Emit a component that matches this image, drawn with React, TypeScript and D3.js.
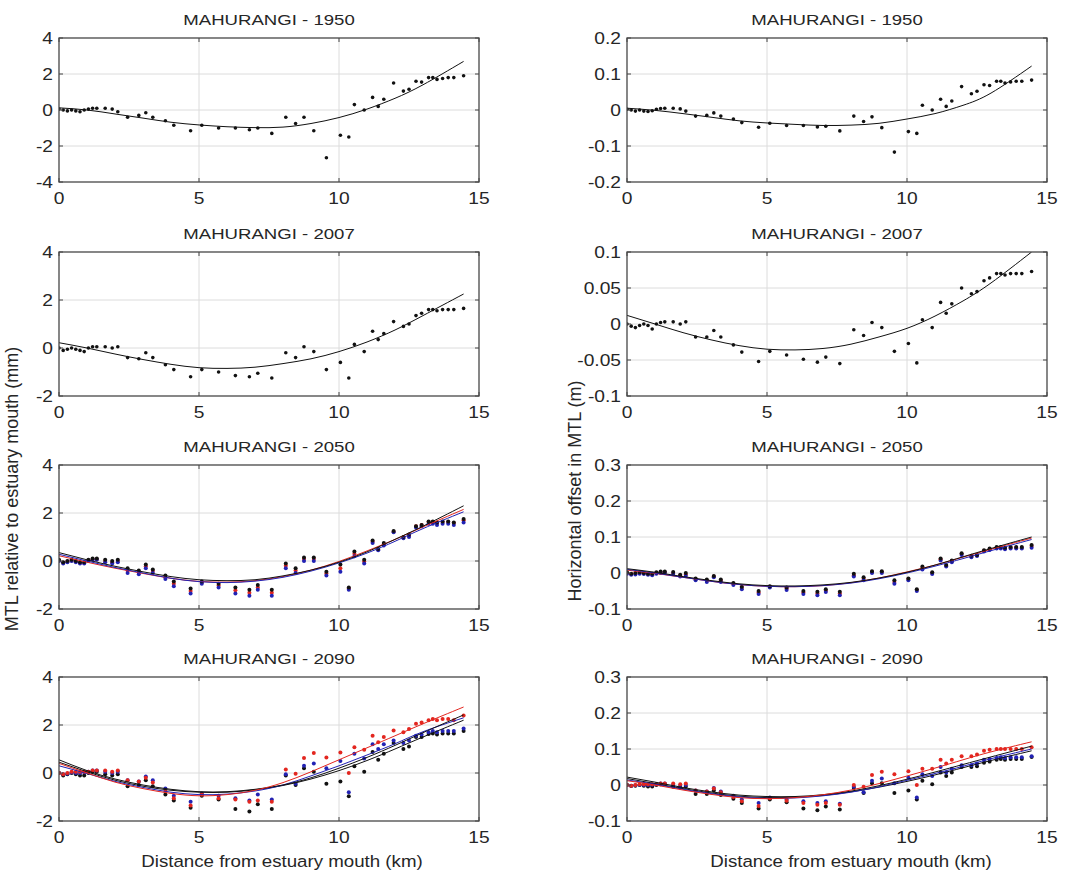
import React from "react";
import * as d3 from "d3";

// ---------- DATA ----------
const dist = [0.0, 0.15, 0.3, 0.45, 0.6, 0.75, 0.9, 1.05, 1.2, 1.35, 1.65, 1.9, 2.1, 2.45, 2.85, 3.1, 3.35, 3.8, 4.1, 4.7, 5.1, 5.7, 6.3, 6.8, 7.1, 7.6, 8.1, 8.45, 8.75, 9.1, 9.55, 10.05, 10.35, 10.55, 10.9, 11.2, 11.4, 11.6, 11.95, 12.3, 12.5, 12.75, 12.95, 13.2, 13.35, 13.5, 13.7, 13.9, 14.1, 14.45];

const fitX = [0, 1, 2, 3, 4, 5, 6, 7, 8, 9, 10, 11, 12, 13, 14.45];

const xTicks = [0, 5, 10, 15];
const yTicksMtlA = [-4, -2, 0, 2, 4];
const yTicksMtlB = [-2, 0, 2, 4];
const yTicksOff1950 = [-0.2, -0.1, 0, 0.1, 0.2];
const yTicksOff2007 = [-0.1, -0.05, 0, 0.05, 0.1];
const yTicksOffFut = [-0.1, 0, 0.1, 0.2, 0.3];

const titles = ["MAHURANGI - 1950", "MAHURANGI - 2007", "MAHURANGI - 2050", "MAHURANGI - 2090"];

// 1950
const mtl1950 = [0.05, 0.0, -0.05, 0.0, -0.05, -0.1, 0.0, 0.05, 0.1, 0.1, 0.1, 0.05, -0.1, -0.4, -0.3, -0.15, -0.4, -0.6, -0.85, -1.15, -0.85, -1.0, -1.0, -1.1, -1.0, -1.3, -0.4, -0.75, -0.4, -1.15, -2.65, -1.4, -1.5, 0.3, 0.0, 0.7, 0.2, 0.6, 1.5, 1.05, 1.15, 1.6, 1.55, 1.8, 1.8, 1.7, 1.75, 1.8, 1.8, 1.9];
const off1950 = [0.002, 0.0, -0.003, 0.0, -0.003, -0.004, -0.002, 0.002, 0.004, 0.005, 0.005, 0.003, -0.003, -0.017, -0.015, -0.008, -0.017, -0.025, -0.035, -0.048, -0.037, -0.043, -0.043, -0.047, -0.045, -0.058, -0.017, -0.032, -0.019, -0.049, -0.117, -0.06, -0.065, 0.013, 0.0, 0.03, 0.01, 0.025, 0.065, 0.045, 0.052, 0.07, 0.068, 0.08, 0.08, 0.075, 0.078, 0.08, 0.08, 0.083];
const fitMtl1950 = [0.12, 0.0, -0.22, -0.45, -0.68, -0.83, -0.93, -0.98, -0.95, -0.75, -0.42, 0.05, 0.65, 1.4, 2.7];
const fitOff1950 = [0.005, -0.001, -0.01, -0.02, -0.03, -0.036, -0.04, -0.043, -0.042, -0.037, -0.025, -0.01, 0.013, 0.047, 0.122];

// 2007
const mtl2007 = [0.0, -0.1, -0.05, 0.0, -0.05, -0.1, -0.15, 0.0, 0.05, 0.05, 0.05, 0.0, 0.05, -0.4, -0.45, -0.2, -0.4, -0.7, -0.9, -1.2, -0.9, -1.0, -1.15, -1.2, -1.05, -1.25, -0.2, -0.4, 0.05, -0.15, -0.9, -0.6, -1.25, 0.15, -0.15, 0.7, 0.35, 0.6, 1.1, 0.9, 1.0, 1.35, 1.45, 1.6, 1.6, 1.55, 1.6, 1.6, 1.6, 1.65];
const off2007 = [0.0, -0.003, -0.005, -0.002, 0.0, -0.002, -0.007, 0.0, 0.002, 0.003, 0.003, 0.0, 0.003, -0.018, -0.018, -0.009, -0.018, -0.029, -0.039, -0.052, -0.038, -0.043, -0.049, -0.053, -0.046, -0.055, -0.008, -0.016, 0.002, -0.005, -0.038, -0.027, -0.054, 0.006, -0.005, 0.03, 0.015, 0.028, 0.05, 0.042, 0.045, 0.06, 0.064, 0.07, 0.07, 0.068, 0.07, 0.07, 0.07, 0.073];
const fitMtl2007 = [0.22, 0.0, -0.25, -0.48, -0.68, -0.82, -0.85, -0.8, -0.65, -0.45, -0.15, 0.25, 0.75, 1.35, 2.25];
const fitOff2007 = [0.012, 0.0, -0.012, -0.022, -0.03, -0.035, -0.036, -0.034, -0.028, -0.018, -0.006, 0.011, 0.032, 0.057, 0.1];

// 2050 (three scenarios: black, red, blue)
const mtl2050k = [0.05, -0.05, 0.0, 0.05, 0.0, -0.05, -0.05, 0.05, 0.1, 0.1, 0.05, 0.0, 0.05, -0.3, -0.4, -0.15, -0.35, -0.6, -0.85, -1.15, -0.85, -0.95, -1.1, -1.2, -1.0, -1.2, -0.1, -0.3, 0.15, 0.15, -0.45, -0.15, -1.1, 0.4, 0.05, 0.85, 0.5, 0.75, 1.25, 1.0, 1.1, 1.45, 1.5, 1.65, 1.65, 1.6, 1.65, 1.65, 1.6, 1.75];
const mtl2050r = [0.02, -0.07, -0.02, 0.02, -0.02, -0.07, -0.08, 0.02, 0.07, 0.07, 0.0, -0.05, 0.0, -0.4, -0.48, -0.22, -0.42, -0.68, -0.95, -1.25, -0.9, -1.02, -1.22, -1.32, -1.1, -1.32, -0.2, -0.4, 0.08, 0.08, -0.52, -0.3, -1.15, 0.3, -0.02, 0.8, 0.48, 0.7, 1.22, 0.98, 1.05, 1.45, 1.5, 1.62, 1.62, 1.58, 1.62, 1.62, 1.58, 1.7];
const mtl2050b = [0.0, -0.1, -0.05, 0.0, -0.05, -0.1, -0.1, 0.0, 0.05, 0.05, -0.05, -0.1, -0.05, -0.5, -0.55, -0.3, -0.5, -0.75, -1.05, -1.35, -0.95, -1.1, -1.35, -1.45, -1.2, -1.45, -0.3, -0.5, 0.0, 0.0, -0.6, -0.45, -1.2, 0.2, -0.1, 0.75, 0.45, 0.65, 1.2, 0.95, 1.0, 1.4, 1.45, 1.55, 1.55, 1.5, 1.55, 1.55, 1.5, 1.6];
const off2050k = [0.002, -0.002, 0.0, 0.002, 0.0, -0.002, -0.002, 0.002, 0.004, 0.004, 0.003, -0.005, 0.0, -0.015, -0.018, -0.008, -0.018, -0.028, -0.038, -0.05, -0.037, -0.04, -0.05, -0.052, -0.045, -0.052, -0.002, -0.012, 0.005, 0.005, -0.02, -0.015, -0.045, 0.018, 0.002, 0.04, 0.022, 0.035, 0.055, 0.048, 0.05, 0.063, 0.068, 0.072, 0.072, 0.07, 0.072, 0.072, 0.072, 0.078];
const off2050r = [0.0, -0.003, -0.002, 0.0, -0.001, -0.003, -0.004, 0.0, 0.002, 0.002, 0.0, -0.007, -0.004, -0.017, -0.021, -0.01, -0.021, -0.03, -0.041, -0.054, -0.038, -0.043, -0.054, -0.057, -0.049, -0.057, -0.006, -0.016, 0.003, 0.003, -0.025, -0.017, -0.047, 0.014, 0.0, 0.038, 0.02, 0.033, 0.053, 0.046, 0.049, 0.062, 0.066, 0.07, 0.07, 0.068, 0.07, 0.07, 0.07, 0.075];
const off2050b = [-0.002, -0.005, -0.004, -0.002, -0.003, -0.005, -0.006, -0.002, 0.0, 0.0, -0.003, -0.01, -0.008, -0.02, -0.025, -0.012, -0.025, -0.033, -0.045, -0.058, -0.04, -0.047, -0.058, -0.062, -0.053, -0.062, -0.01, -0.02, 0.0, 0.0, -0.03, -0.02, -0.05, 0.01, -0.003, 0.035, 0.018, 0.03, 0.05, 0.044, 0.047, 0.06, 0.064, 0.068, 0.068, 0.066, 0.068, 0.068, 0.068, 0.07];
const fitMtl2050k = [0.35, 0.05, -0.22, -0.45, -0.65, -0.78, -0.82, -0.78, -0.62, -0.38, -0.05, 0.38, 0.9, 1.45, 2.3];
const fitMtl2050r = [0.22, -0.05, -0.3, -0.52, -0.72, -0.85, -0.88, -0.82, -0.65, -0.38, -0.02, 0.42, 0.9, 1.42, 2.15];
const fitMtl2050b = [0.28, 0.0, -0.27, -0.5, -0.72, -0.86, -0.9, -0.84, -0.68, -0.42, -0.08, 0.33, 0.82, 1.35, 2.05];
const fitOff2050k = [0.012, 0.002, -0.01, -0.021, -0.03, -0.035, -0.036, -0.033, -0.026, -0.014, 0.002, 0.022, 0.045, 0.068, 0.1];
const fitOff2050r = [0.008, -0.001, -0.012, -0.023, -0.032, -0.037, -0.038, -0.035, -0.027, -0.014, 0.003, 0.022, 0.044, 0.066, 0.097];
const fitOff2050b = [0.01, 0.0, -0.012, -0.023, -0.032, -0.037, -0.038, -0.035, -0.028, -0.016, 0.0, 0.019, 0.04, 0.062, 0.093];

// 2090 (scenarios: black, red, blue)
const mtl2090k = [0.0, -0.1, -0.05, 0.0, -0.05, -0.1, -0.1, 0.0, 0.05, 0.05, -0.05, -0.1, -0.05, -0.55, -0.5, -0.3, -0.55, -0.9, -1.15, -1.45, -0.95, -1.1, -1.5, -1.6, -1.3, -1.5, -0.1, -0.5, 0.2, 0.05, -0.45, -0.35, -0.97, 0.28, 0.05, 0.87, 0.55, 0.8, 1.25, 1.0, 1.1, 1.5, 1.5, 1.62, 1.65, 1.6, 1.65, 1.65, 1.65, 1.75];
const mtl2090r = [0.0, -0.05, 0.0, 0.05, 0.05, 0.05, 0.05, 0.05, 0.1, 0.1, 0.1, 0.05, 0.1, -0.3, -0.35, -0.2, -0.4, -0.75, -1.05, -1.35, -0.9, -1.05, -1.1, -1.2, -1.15, -1.2, 0.15, -0.03, 0.63, 0.83, 0.65, 0.85, 0.0, 1.07, 0.97, 1.55, 1.28, 1.5, 1.77, 1.7, 1.83, 2.05, 2.1, 2.2, 2.25, 2.2, 2.25, 2.25, 2.2, 2.4];
const mtl2090b = [0.0, -0.05, -0.03, 0.02, 0.0, 0.0, 0.03, 0.05, 0.1, 0.1, 0.05, 0.0, 0.05, -0.3, -0.35, -0.15, -0.3, -0.65, -0.95, -1.2, -0.85, -0.95, -1.05, -1.15, -0.9, -1.1, -0.05, -0.45, 0.3, 0.4, 0.2, 0.5, -0.8, 0.8, 0.6, 1.2, 1.0, 1.2, 1.35, 1.25, 1.35, 1.55, 1.6, 1.7, 1.75, 1.7, 1.75, 1.75, 1.75, 1.85];
const off2090k = [0.0, -0.003, -0.002, 0.0, -0.002, -0.004, -0.004, 0.0, 0.002, 0.002, -0.005, -0.007, -0.005, -0.025, -0.025, -0.015, -0.028, -0.038, -0.05, -0.065, -0.04, -0.048, -0.065, -0.07, -0.06, -0.068, -0.008, -0.022, 0.005, 0.005, -0.022, -0.015, -0.04, 0.012, 0.002, 0.035, 0.025, 0.035, 0.05, 0.05, 0.052, 0.062, 0.065, 0.07, 0.072, 0.07, 0.072, 0.072, 0.072, 0.078];
const off2090r = [0.0, -0.002, 0.0, 0.002, 0.002, 0.002, 0.002, 0.002, 0.004, 0.004, 0.004, 0.002, 0.004, -0.015, -0.018, -0.01, -0.02, -0.033, -0.045, -0.058, -0.037, -0.044, -0.05, -0.055, -0.05, -0.055, 0.0, -0.005, 0.028, 0.037, 0.03, 0.038, 0.0, 0.045, 0.045, 0.07, 0.06, 0.07, 0.08, 0.08, 0.085, 0.095, 0.098, 0.1, 0.1, 0.1, 0.1, 0.1, 0.1, 0.105];
const off2090b = [0.0, -0.002, -0.001, 0.001, 0.0, 0.0, 0.001, 0.002, 0.004, 0.004, 0.0, -0.003, 0.0, -0.015, -0.018, -0.008, -0.018, -0.03, -0.04, -0.05, -0.035, -0.04, -0.045, -0.05, -0.045, -0.052, -0.005, -0.02, 0.012, 0.018, 0.005, 0.02, -0.035, 0.03, 0.025, 0.05, 0.035, 0.045, 0.055, 0.055, 0.06, 0.07, 0.072, 0.075, 0.077, 0.075, 0.077, 0.077, 0.077, 0.08];
const fitMtl2090r = [0.4, 0.0, -0.38, -0.65, -0.85, -0.95, -0.9, -0.72, -0.4, 0.05, 0.55, 1.05, 1.55, 2.05, 2.75];
const fitMtl2090k = [0.55, 0.1, -0.25, -0.5, -0.68, -0.78, -0.78, -0.68, -0.5, -0.2, 0.2, 0.65, 1.15, 1.68, 2.42];
const fitMtl2090b = [0.3, -0.02, -0.35, -0.6, -0.8, -0.9, -0.88, -0.75, -0.5, -0.12, 0.3, 0.75, 1.22, 1.72, 2.3];
const fitMtl2090k2 = [0.45, 0.05, -0.3, -0.55, -0.72, -0.8, -0.8, -0.7, -0.52, -0.25, 0.1, 0.52, 1.0, 1.5, 2.2];
const fitOff2090r = [0.012, 0.0, -0.014, -0.026, -0.035, -0.038, -0.035, -0.027, -0.014, 0.004, 0.025, 0.047, 0.07, 0.092, 0.12];
const fitOff2090k = [0.022, 0.008, -0.007, -0.019, -0.028, -0.032, -0.032, -0.027, -0.017, -0.002, 0.016, 0.036, 0.057, 0.078, 0.108];
const fitOff2090b = [0.014, 0.002, -0.012, -0.024, -0.033, -0.037, -0.036, -0.03, -0.02, -0.005, 0.013, 0.032, 0.052, 0.073, 0.1];
const fitOff2090k2 = [0.018, 0.004, -0.01, -0.022, -0.031, -0.035, -0.034, -0.029, -0.019, -0.006, 0.01, 0.028, 0.048, 0.068, 0.095];

// ---------- STYLE / LAYOUT ----------
const W = 1083;
const H = 873;
const COLS = [
  { x0: 59, x1: 479 },
  { x0: 627, x1: 1047 },
];
const ROWS = [38, 252, 465, 677];
const PH = 144;
const COL = { k: "#111111", r: "#e3261f", b: "#2222b4" };
const FONT = "'Liberation Sans', Arial, Helvetica, sans-serif";
const SX = 1.2; // horizontal text stretch seen in the reference

type Series = { c: keyof typeof COL; v: number[] };
type Panel = { domain: [number, number]; ticks: number[]; pts: Series[]; fits: Series[]; r: number };

const panels: Panel[][] = [
  [
    { domain: [-4, 4], ticks: yTicksMtlA, pts: [{ c: "k", v: mtl1950 }], fits: [{ c: "k", v: fitMtl1950 }], r: 1.8 },
    { domain: [-0.2, 0.2], ticks: yTicksOff1950, pts: [{ c: "k", v: off1950 }], fits: [{ c: "k", v: fitOff1950 }], r: 1.8 },
  ],
  [
    { domain: [-2, 4], ticks: yTicksMtlB, pts: [{ c: "k", v: mtl2007 }], fits: [{ c: "k", v: fitMtl2007 }], r: 1.8 },
    { domain: [-0.1, 0.1], ticks: yTicksOff2007, pts: [{ c: "k", v: off2007 }], fits: [{ c: "k", v: fitOff2007 }], r: 1.8 },
  ],
  [
    {
      domain: [-2, 4], ticks: yTicksMtlB,
      pts: [{ c: "r", v: mtl2050r }, { c: "b", v: mtl2050b }, { c: "k", v: mtl2050k }],
      fits: [{ c: "r", v: fitMtl2050r }, { c: "b", v: fitMtl2050b }, { c: "k", v: fitMtl2050k }], r: 2,
    },
    {
      domain: [-0.1, 0.3], ticks: yTicksOffFut,
      pts: [{ c: "r", v: off2050r }, { c: "b", v: off2050b }, { c: "k", v: off2050k }],
      fits: [{ c: "r", v: fitOff2050r }, { c: "b", v: fitOff2050b }, { c: "k", v: fitOff2050k }], r: 2,
    },
  ],
  [
    {
      domain: [-2, 4], ticks: yTicksMtlB,
      pts: [{ c: "k", v: mtl2090k }, { c: "b", v: mtl2090b }, { c: "r", v: mtl2090r }],
      fits: [{ c: "k", v: fitMtl2090k2 }, { c: "b", v: fitMtl2090b }, { c: "k", v: fitMtl2090k }, { c: "r", v: fitMtl2090r }], r: 2,
    },
    {
      domain: [-0.1, 0.3], ticks: yTicksOffFut,
      pts: [{ c: "k", v: off2090k }, { c: "b", v: off2090b }, { c: "r", v: off2090r }],
      fits: [{ c: "k", v: fitOff2090k2 }, { c: "b", v: fitOff2090b }, { c: "k", v: fitOff2090k }, { c: "r", v: fitOff2090r }], r: 2,
    },
  ],
];

function HText(props: { x: number; y: number; anchor: string; size: number; children: React.ReactNode }) {
  const { x, y, anchor, size, children } = props;
  return (
    <text
      transform={`translate(${x},${y}) scale(${SX},1)`}
      textAnchor={anchor}
      fontSize={size}
      fontFamily={FONT}
      fill="#262626"
    >
      {children}
    </text>
  );
}

function PanelView(props: { p: Panel; col: number; row: number; id: string }) {
  const { p, col, row, id } = props;
  const { x0, x1 } = COLS[col];
  const top = ROWS[row];
  const bottom = top + PH;
  const x = d3.scaleLinear().domain([0, 15]).range([x0, x1]);
  const y = d3.scaleLinear().domain(p.domain).range([bottom, top]);
  const line = d3
    .line<number>()
    .x((_, i) => x(fitX[i]))
    .y((d) => y(d))
    .curve(d3.curveNatural);
  const tl = 4;
  return (
    <g>
      <defs>
        <clipPath id={id}>
          <rect x={x0} y={top} width={x1 - x0} height={PH} />
        </clipPath>
      </defs>
      <rect x={x0} y={top} width={x1 - x0} height={PH} fill="#fff" />
      {xTicks.slice(1, -1).map((t) => (
        <line key={"gx" + t} x1={x(t)} x2={x(t)} y1={top} y2={bottom} stroke="#dcdcdc" strokeWidth={1} />
      ))}
      {p.ticks.slice(1, -1).map((t) => (
        <line key={"gy" + t} x1={x0} x2={x1} y1={y(t)} y2={y(t)} stroke="#dcdcdc" strokeWidth={1} />
      ))}
      <g clipPath={`url(#${id})`}>
        {p.pts.map((s, si) =>
          s.v.map((v, i) => (
            <circle key={"p" + si + "_" + i} cx={x(dist[i])} cy={y(v)} r={p.r} fill={COL[s.c]} />
          ))
        )}
        {p.fits.map((s, si) => (
          <path key={"f" + si} d={line(s.v) || ""} fill="none" stroke={COL[s.c]} strokeWidth={1} />
        ))}
      </g>
      <rect x={x0} y={top} width={x1 - x0} height={PH} fill="none" stroke="#474747" strokeWidth={1.3} />
      {xTicks.map((t) => (
        <g key={"tx" + t}>
          <line x1={x(t)} x2={x(t)} y1={bottom} y2={bottom - tl} stroke="#474747" />
          <line x1={x(t)} x2={x(t)} y1={top} y2={top + tl} stroke="#474747" />
          <HText x={x(t)} y={bottom + 22} anchor="middle" size={16}>
            {String(t)}
          </HText>
        </g>
      ))}
      {p.ticks.map((t) => (
        <g key={"ty" + t}>
          <line x1={x0} x2={x0 + tl} y1={y(t)} y2={y(t)} stroke="#474747" />
          <line x1={x1} x2={x1 - tl} y1={y(t)} y2={y(t)} stroke="#474747" />
          <HText x={x0 - 6} y={y(t) + 6} anchor="end" size={16}>
            {String(t)}
          </HText>
        </g>
      ))}
      <HText x={(x0 + x1) / 2} y={top - 13} anchor="middle" size={15.5}>
        {titles[row]}
      </HText>
    </g>
  );
}

export default function App() {
  return (
    <svg
      width={W}
      height={H}
      viewBox={`0 0 ${W} ${H}`}
      style={{ position: "absolute", left: 0, top: 0, background: "#fff" }}
    >
      <rect x={0} y={0} width={W} height={H} fill="#fff" />
      {panels.map((rowP, ri) =>
        rowP.map((p, ci) => <PanelView key={ri + "_" + ci} p={p} col={ci} row={ri} id={`clip${ri}${ci}`} />)
      )}
      <text
        transform="translate(18,489) rotate(-90)"
        textAnchor="middle"
        fontSize={18}
        fontFamily={FONT}
        fill="#262626"
      >
        MTL relative to estuary mouth (mm)
      </text>
      <text
        transform="translate(581,491) rotate(-90)"
        textAnchor="middle"
        fontSize={18}
        fontFamily={FONT}
        fill="#262626"
      >
        Horizontal offset in MTL (m)
      </text>
      <text
        transform="translate(282,867) scale(1.1,1)"
        textAnchor="middle"
        fontSize={17}
        fontFamily={FONT}
        fill="#262626"
      >
        Distance from estuary mouth (km)
      </text>
      <text
        transform="translate(851,867) scale(1.1,1)"
        textAnchor="middle"
        fontSize={17}
        fontFamily={FONT}
        fill="#262626"
      >
        Distance from estuary mouth (km)
      </text>
    </svg>
  );
}
